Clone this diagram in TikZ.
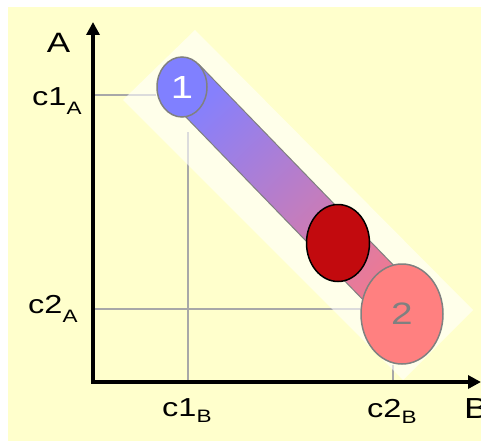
\documentclass[tikz,border=0pt]{standalone}
\usepackage{fontspec}
\setmainfont{Liberation Sans}[FakeStretch=1.25]
\usetikzlibrary{positioning, shapes.geometric, arrows.meta, calc, backgrounds}
\definecolor{bgyel}{HTML}{FFFFCC}
\definecolor{blu}{HTML}{8080FF}
\definecolor{pnk}{HTML}{FF8080}
\definecolor{dred}{HTML}{C20A0E}
\definecolor{grid}{HTML}{A8A8A8}
\definecolor{rim}{HTML}{808080}
\definecolor{bandA}{RGB}{134,128,252}
\definecolor{bandB}{RGB}{238,122,146}
\newcommand\lsub[2][6pt]{\raisebox{-#1}{\fontsize{18}{18}\selectfont #2}}

\begin{document}
\begin{tikzpicture}[x=1pt,y=-1pt,
  lbl/.style={font=\fontsize{26}{26}\selectfont, inner sep=0pt},
  blob/.style={ellipse, inner sep=0pt, line width=1.5pt},
  guide/.style={grid, line width=1.5pt},
  axtip/.tip={Triangle[length=13pt,width=13pt]}]
  \useasboundingbox (0,0) rectangle (481,441);
  % axis corners
  \coordinate (O) at (93,382);
  \coordinate (Atop) at (93,22);
  \coordinate (Bend) at (481,382);
  \coordinate (a1) at (93,95);
  \coordinate (a2) at (93,309);
  \coordinate (b1) at (188,382);
  \coordinate (b2) at (393,382);
  % states
  \node[blob, draw=rim, fill=blu, minimum width=50pt, minimum height=60pt,
        text=white, font=\fontsize{32}{32}\selectfont] (s1) at (182,87) {1};
  \node[blob, draw=rim, fill=pnk, minimum width=82pt, minimum height=100pt,
        text=rim, font=\fontsize{31}{31}\selectfont] (s2) at (402,314) {2};
  \node[blob, draw=black, fill=dred, minimum width=63pt, minimum height=77pt] (mid) at (338,243) {};
  \begin{scope}[on background layer]
    \fill[bgyel] (8,7) rectangle (481,441);
    \draw[guide] (a1) -- (a1 -| s1.west);
    \draw[guide] (a2) -- (a2 -| s2.west);
    \draw[guide] (b1) -- ++(0,-250);
    \draw[guide] (b2) -- (b2 |- s2.south);
    % pale strip
    \fill[white, opacity=0.6] (195,30) -- (473,310) -- (403,380) -- (123,100) -- cycle;
    % path from 1 to 2
    \draw[rim, line width=1pt, top color=bandA, bottom color=bandB, shading angle=44]
      (198.5,64) -- (417.5,290) -- (384.5,322) -- (165.5,96) -- cycle;
  \end{scope}
  \draw[line width=4pt, axtip-axtip] (Atop) -- (O) -- (Bend);
  \node[lbl, font=\fontsize{28}{28}\selectfont, anchor=base] (labA) at (58.5,53) {A};
  \node[lbl, anchor=base west] (c1A) at (32,106) {c1\lsub[9pt]{A}};
  \node[lbl, anchor=base west] (c2A) at (28,313) {c2\lsub[9pt]{A}};
  \node[lbl, anchor=base west] (c1B) at (162,416) {c1\lsub{B}};
  \node[lbl, anchor=base west] (c2B) at (367,417) {c2\lsub{B}};
  \node[lbl, font=\fontsize{29}{29}\selectfont, anchor=base west] (labB) at (464,418) {B};
\end{tikzpicture}
\end{document}
